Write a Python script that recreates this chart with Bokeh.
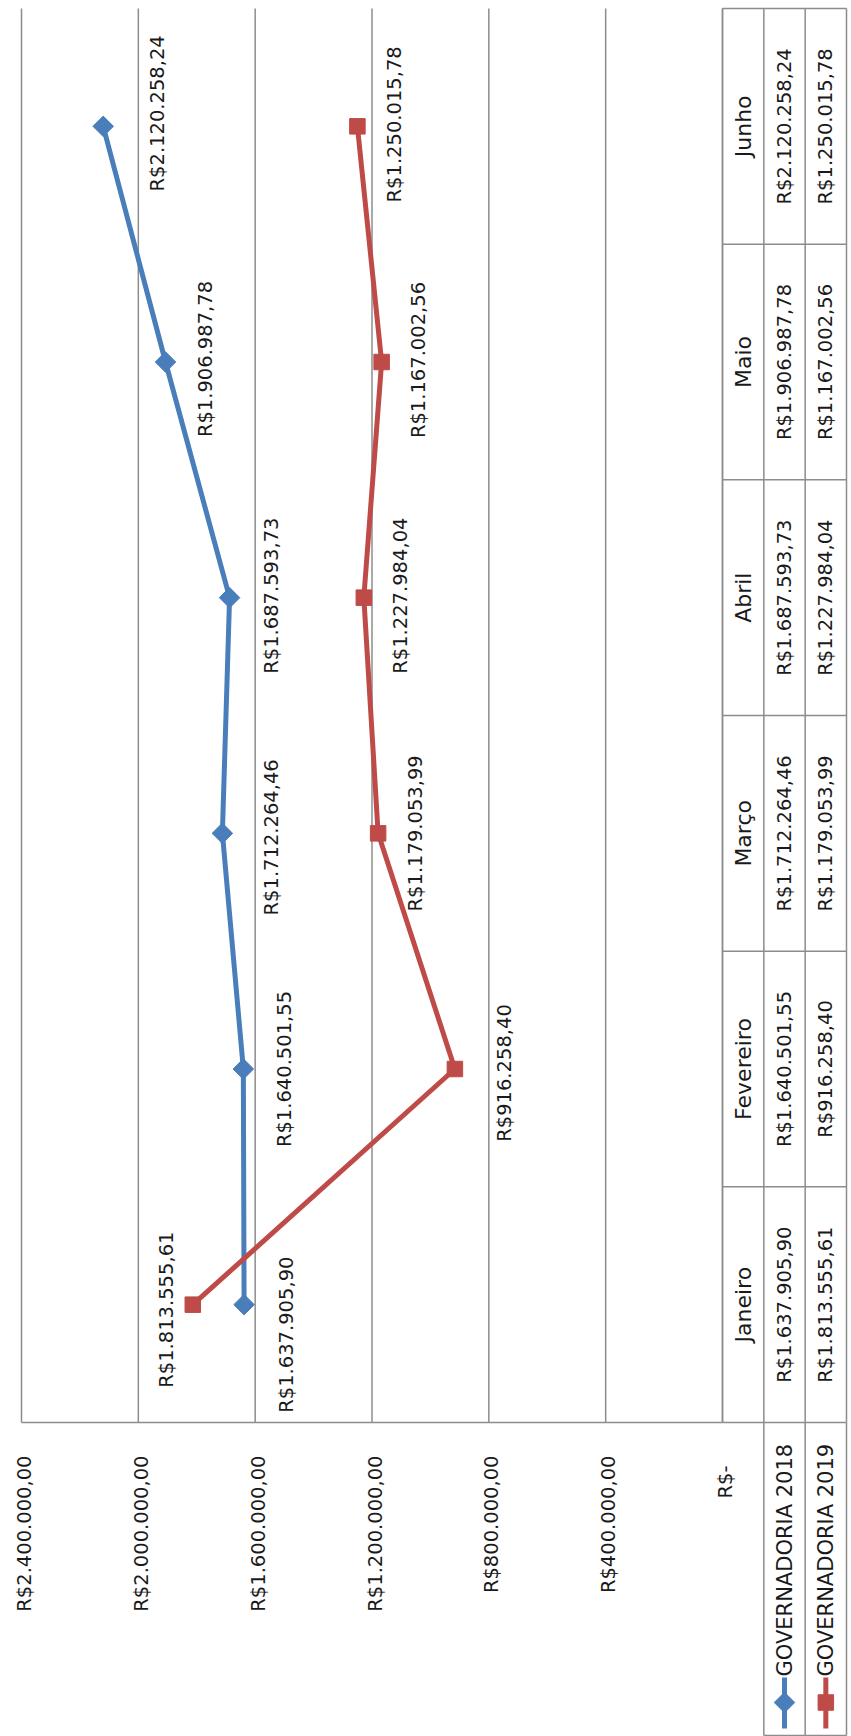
import math
from bokeh.plotting import figure
from bokeh.models import Range1d
from bokeh.embed import file_html
from bokeh.resources import INLINE
from bokeh.core.properties import value

# ---------------- data ----------------
months = ["Janeiro", "Fevereiro", "Março", "Abril", "Maio", "Junho"]
series_names = ["GOVERNADORIA 2018", "GOVERNADORIA 2019"]
gov2018 = [1637905.90, 1640501.55, 1712264.46, 1687593.73, 1906987.78, 2120258.24]
gov2019 = [1813555.61, 916258.40, 1179053.99, 1227984.04, 1167002.56, 1250015.78]
ticks = [0, 400000, 800000, 1200000, 1600000, 2000000, 2400000]
tick_labels = ["R$-", "R$400.000,00", "R$800.000,00", "R$1.200.000,00",
               "R$1.600.000,00", "R$2.000.000,00", "R$2.400.000,00"]


def brl(v):
    s = f"{v:,.2f}"
    s = s.replace(",", "X").replace(".", ",").replace("X", ".")
    return "R$" + s


# ---------------- layout (pixels) ----------------
W, H = 851, 1736
X_MAX_PX, X_ZERO_PX, TBL_RIGHT_PX = 21, 722, 846
PLOT_TOP_PX, PLOT_BOTTOM_PX = 8, 1422
VMAX = 2400000

k = (X_ZERO_PX - X_MAX_PX) / VMAX
x_start = VMAX + X_MAX_PX / k
x_end = -(W - X_ZERO_PX) / k
h = (PLOT_BOTTOM_PX - PLOT_TOP_PX) / 6.0
y_start = -0.5 - (H - PLOT_BOTTOM_PX) / h
y_end = 5.5 + PLOT_TOP_PX / h
cw = (TBL_RIGHT_PX - X_ZERO_PX) / 3.0

BLUE = "#4A7EBB"
RED = "#BE4B48"
GRID = "#8C8C8C"
TXT = "#1A1A1A"
FONT = value("DejaVu Sans")
NUM_SIZE = "19.5px"
LW = 5

p = figure(width=W, height=H, x_range=Range1d(x_start, x_end),
           y_range=Range1d(y_start, y_end), output_backend="svg",
           toolbar_location=None, x_axis_location=None, y_axis_location=None,
           min_border=0, outline_line_color=None,
           background_fill_color="white", border_fill_color="white")
p.extra_x_ranges = {"tbl": Range1d(-X_ZERO_PX / cw, (W - X_ZERO_PX) / cw)}
p.extra_y_ranges = {"px": Range1d(H, 0)}
p.xgrid.visible = False
p.ygrid.visible = False

idx = list(range(len(months)))

# gridlines (value axis ticks)
p.segment(x0=ticks, y0=-0.5, x1=ticks, y1=5.5, line_color=GRID, line_width=1.5)
# value axis line
p.segment(x0=[VMAX], y0=[-0.5], x1=[0], y1=[-0.5], line_color=GRID, line_width=1.5)

# tick labels
tick_yoff = [43, 33, 33, 33, 33, 33, 33]
p.text(x=ticks, y=-0.5, text=tick_labels, x_offset=3, y_offset=tick_yoff,
       angle=math.pi / 2, text_align="right", text_baseline="middle",
       text_font=FONT, text_font_size=NUM_SIZE, text_color=TXT)

# data table
seps = [i - 0.5 for i in range(len(months) + 1)]
p.segment(x0=0, x1=3, y0=seps, y1=seps, x_range_name="tbl",
          line_color=GRID, line_width=1.5)
p.segment(x0=[0, 1, 2, 3], x1=[0, 1, 2, 3], y0=-0.5, y1=5.5, x_range_name="tbl",
          line_color=GRID, line_width=1.5)
p.text(x=0.5, y=idx, text=months, angle=math.pi / 2, x_range_name="tbl",
       text_align="center", text_baseline="middle", text_font=FONT,
       text_font_size="22px", text_color=TXT)
p.text(x=1.5, y=idx, text=[brl(v) for v in gov2018], angle=math.pi / 2,
       x_range_name="tbl", text_align="center", text_baseline="middle",
       text_font=FONT, text_font_size=NUM_SIZE, text_color=TXT)
p.text(x=2.5, y=idx, text=[brl(v) for v in gov2019], angle=math.pi / 2,
       x_range_name="tbl", text_align="center", text_baseline="middle",
       text_font=FONT, text_font_size=NUM_SIZE, text_color=TXT)

# legend cells (row headers of the table)
p.segment(x0=[1, 2, 3], x1=[1, 2, 3], y0=PLOT_BOTTOM_PX, y1=H - 1,
          x_range_name="tbl", y_range_name="px", line_color=GRID, line_width=1.5)
p.segment(x0=[1], x1=[3], y0=[H - 1], y1=[H - 1],
          x_range_name="tbl", y_range_name="px", line_color=GRID, line_width=1.5)
for col, color, msize, mang, name in [
        (1.5, BLUE, 14.5, math.pi / 4, series_names[0]),
        (2.5, RED, 15.5, 0, series_names[1])]:
    p.segment(x0=[col], x1=[col], y0=[1677], y1=[1728], x_range_name="tbl",
              y_range_name="px", line_color=color, line_width=LW)
    p.scatter(x=[col], y=[1702], marker="square", size=msize, angle=mang,
              x_range_name="tbl", y_range_name="px", fill_color=color,
              line_color=color)
    p.text(x=[col], y=[1676], text=[name], angle=math.pi / 2, x_range_name="tbl",
           y_range_name="px", text_align="left", text_baseline="middle",
           text_font=FONT, text_font_size="21px", text_color=TXT)

# series
p.line(gov2018, idx, line_color=BLUE, line_width=LW)
p.scatter(gov2018, idx, marker="square", size=14.5, angle=math.pi / 4,
          fill_color=BLUE, line_color=BLUE)
p.line(gov2019, idx, line_color=RED, line_width=LW)
p.scatter(gov2019, idx, marker="square", size=15.5, fill_color=RED, line_color=RED)

# data labels
off18x = [42, 41, 49, 42, 40, 54]
off18y = [30, 0, 4, -2, -3, -13]
off19x = [-26, 50, 37, 37, 37, 37]
off19y = [5, 4, 0, -2, -2, -2]
p.text(x=gov2018, y=idx, text=[brl(v) for v in gov2018], x_offset=off18x,
       y_offset=off18y, angle=math.pi / 2, text_align="center",
       text_baseline="middle", text_font=FONT, text_font_size=NUM_SIZE,
       text_color=TXT)
p.text(x=gov2019, y=idx, text=[brl(v) for v in gov2019], x_offset=off19x,
       y_offset=off19y, angle=math.pi / 2, text_align="center",
       text_baseline="middle", text_font=FONT, text_font_size=NUM_SIZE,
       text_color=TXT)

open("out.html", "w").write(file_html(p, INLINE))
